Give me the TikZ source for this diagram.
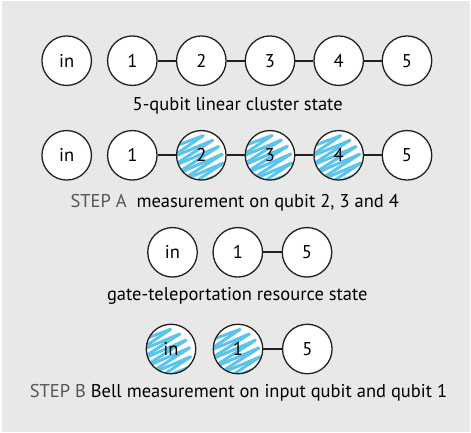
\documentclass[tikz,border=0pt]{standalone}
\usepackage{fontspec}
\setmainfont{PT Sans}
\definecolor{bggray}{HTML}{E8E8E8}
\definecolor{stepgray}{HTML}{555555}
\definecolor{scribblue}{HTML}{5BC4EC}
\definecolor{inkblack}{HTML}{231F20}
\newcommand{\myscribble}{%
  \begin{scope}[shift={(path picture bounding box.center)}]
    \foreach \i in {0,...,11}{%
      \pgfmathsetmacro{\da}{-24+4.2*\i}
      \pgfmathsetmacro{\db}{-24+4.2*(\i+1)}
      \pgfmathsetmacro{\sg}{ifthenelse(mod(\i,2)==0,-1,1)}
      \pgfmathsetmacro{\ha}{\sg*sqrt(max(0,27*27-\da*\da))}
      \pgfmathsetmacro{\hb}{-\sg*sqrt(max(0,27*27-\db*\db))}
      \pgfmathsetmacro{\xa}{\ha*cos(28)+\da*sin(28)}
      \pgfmathsetmacro{\ya}{-\ha*sin(28)+\da*cos(28)}
      \pgfmathsetmacro{\xb}{\hb*cos(28)+\db*sin(28)}
      \pgfmathsetmacro{\yb}{-\hb*sin(28)+\db*cos(28)}
      \draw[scribblue, line width=3pt, line cap=round, line join=round]
        (\xa,\ya) -- (\xb,\yb);
    }
  \end{scope}}
\tikzset{
  qb/.style={circle, draw=inkblack, line width=1.3pt, fill=white,
    minimum size=49.5pt, inner sep=0pt, font=\fontsize{18.5}{22}\selectfont},
  meas/.style={path picture={\myscribble}},
  link/.style={line width=1.8pt, draw=inkblack},
  captxt/.style={font=\fontsize{18.5}{22}\selectfont, inner sep=0pt}
}
\begin{document}
\begin{tikzpicture}[x=1pt, y=-1pt]
\useasboundingbox (0,0) rectangle (471,433);
\fill[bggray] (1.5,1.5) rectangle (469.5,431.5);
% row 1
\node[qb] (a0) at (66.7,60.7) {in};
\node[qb] (a1) at (132.3,60.7) {1};
\node[qb] (a2) at (201.3,60.7) {2};
\node[qb] (a3) at (270,60.7) {3};
\node[qb] (a4) at (338.7,60.7) {4};
\node[qb] (a5) at (407,60.7) {5};
\draw[link] (a1) -- (a2); \draw[link] (a2) -- (a3);
\draw[link] (a3) -- (a4); \draw[link] (a4) -- (a5);
\node[captxt] (c1) at (237.7,106) {5-qubit linear cluster state};
% row 2
\node[qb] (b0) at (66.7,155.3) {in};
\node[qb] (b1) at (132.3,155.3) {1};
\node[qb, meas] (b2) at (201.3,155.3) {2};
\node[qb, meas] (b3) at (270,155.3) {3};
\node[qb, meas] (b4) at (338.7,155.3) {4};
\node[qb] (b5) at (407,155.3) {5};
\draw[link] (b1) -- (b2); \draw[link] (b2) -- (b3);
\draw[link] (b3) -- (b4); \draw[link] (b4) -- (b5);
\node[captxt] (c2) at (234.7,202.3) {\textcolor{stepgray}{STEP A}\ \ measurement on qubit 2, 3 and 4};
% row 3
\node[qb] (d0) at (172.5,252.3) {in};
\node[qb] (d1) at (237.8,252.3) {1};
\node[qb] (d5) at (307,252.3) {5};
\draw[link] (d1) -- (d5);
\node[captxt] (c3) at (237.3,296) {gate-teleportation resource state};
% row 4
\node[qb, meas] (e0) at (171,349) {in};
\node[qb, meas] (e1) at (238,349) {1};
\node[qb] (e5) at (307.3,349) {5};
\draw[link] (e1) -- (e5);
\node[captxt] (c4) at (238.5,392.7) {\textcolor{stepgray}{STEP B} Bell measurement on input qubit and qubit 1};
\end{tikzpicture}
\end{document}
